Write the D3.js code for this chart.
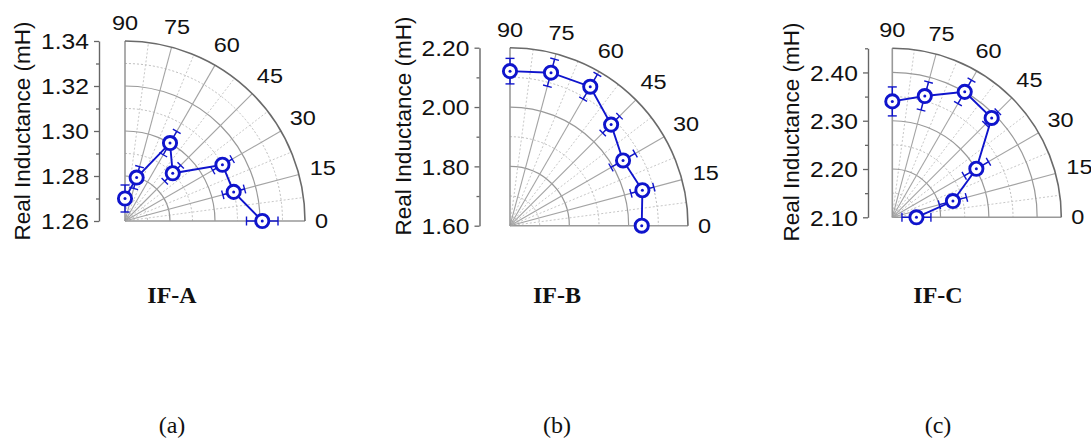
<!DOCTYPE html>
<html>
<head>
<meta charset="utf-8">
<script src="https://cdn.jsdelivr.net/npm/d3@7"></script>
<style>
  body { margin: 0; background: #fff; }
  svg { display: block; }
</style>
</head>
<body>
<svg id="chart" width="1091" height="443"></svg>
<script>
// Measurement angles (degrees) shared by the three coils
const angles = [0, 15, 30, 45, 60, 75, 90];
const angleLabels = ["0", "15", "30", "45", "60", "75", "90"];

const panelTitles = ["IF-A", "IF-B", "IF-C"];
const panelLetters = ["(a)", "(b)", "(c)"];
const axisTitle = "Real Inductance (mH)";

// Real inductance (mH) and its error at each angle
const inductanceA = [1.321, 1.310, 1.310, 1.290, 1.300, 1.280, 1.270];
const errorA      = [0.007, 0.005, 0.005, 0.005, 0.006, 0.005, 0.006];
const inductanceB = [2.044, 2.062, 2.040, 2.082, 2.141, 2.134, 2.121];
const errorB      = [0.020, 0.040, 0.047, 0.040, 0.048, 0.047, 0.043];
const inductanceC = [2.150, 2.230, 2.301, 2.391, 2.400, 2.360, 2.340];
const errorC      = [0.030, 0.029, 0.029, 0.018, 0.028, 0.030, 0.030];

// Radial ranges and ticks
const domainA = [1.26, 1.34];
const domainB = [1.60, 2.20];
const domainC = [2.10, 2.45];
const ticksA = [1.26, 1.28, 1.30, 1.32, 1.34];
const ticksB = [1.60, 1.80, 2.00, 2.20];
const ticksC = [2.10, 2.20, 2.30, 2.40];
const minorA = [1.27, 1.29, 1.31, 1.33];
const minorB = [1.70, 1.90, 2.10];
const minorC = [2.15, 2.25, 2.35, 2.45];

const series = [
  { values: inductanceA, errors: errorA, domain: domainA, ticks: ticksA, minor: minorA },
  { values: inductanceB, errors: errorB, domain: domainB, ticks: ticksB, minor: minorB },
  { values: inductanceC, errors: errorC, domain: domainC, ticks: ticksC, minor: minorC }
];

// Placement of each quarter-polar panel
const layout = [
  { ox: 125,   oy: 221,   R: 180, axisX: 99,    titleY: 131, nameX: 172 },
  { ox: 510,   oy: 225.7, R: 178, axisX: 479.5, titleY: 126, nameX: 557 },
  { ox: 892.3, oy: 217.3, R: 169, axisX: 868,   titleY: 132, nameX: 938 }
];

const BLUE = "#0f14cc";
const SANS = "'Liberation Sans', Arial, sans-serif";
const SERIF = "'Liberation Serif', 'Times New Roman', serif";
const STRETCH = 1.12;

const svg = d3.select("#chart");
const rad = d => d * Math.PI / 180;

series.forEach((s, i) => {
  const L = layout[i];
  const g = svg.append("g");
  const r = d3.scaleLinear().domain(s.domain).range([0, L.R]);
  const ang = d3.scaleLinear().domain([0, 90]).range([0, Math.PI / 2]);
  const px = (a, v) => L.ox + r(v) * Math.cos(ang(a));
  const py = (a, v) => L.oy - r(v) * Math.sin(ang(a));

  const arcPath = rr => {
    const p = d3.path();
    p.moveTo(L.ox, L.oy - rr);
    p.arc(L.ox, L.oy, rr, -Math.PI / 2, 0);
    return p.toString();
  };

  const grid = g.append("g").attr("fill", "none");

  // dotted minor circles
  grid.selectAll("path.minor-ring")
    .data(s.minor.filter(v => v < s.domain[1]))
    .join("path")
    .attr("d", v => arcPath(r(v)))
    .attr("stroke", "#bdbdbd").attr("stroke-width", 1)
    .attr("stroke-dasharray", "2,2");

  // dotted minor spokes
  const halfSteps = d3.range(7.5, 90, 15);
  grid.selectAll("line.minor-spoke")
    .data(halfSteps)
    .join("line")
    .attr("x1", L.ox).attr("y1", L.oy)
    .attr("x2", a => px(a, s.domain[1])).attr("y2", a => py(a, s.domain[1]))
    .attr("stroke", "#c8c8c8").attr("stroke-width", 1)
    .attr("stroke-dasharray", "2,2");

  // solid major circles
  grid.selectAll("path.major-ring")
    .data(s.ticks.filter(v => v > s.domain[0] && v < s.domain[1]))
    .join("path")
    .attr("d", v => arcPath(r(v)))
    .attr("stroke", "#999").attr("stroke-width", 1.2);

  // solid spokes every 15 degrees
  grid.selectAll("line.major-spoke")
    .data(angles)
    .join("line")
    .attr("x1", L.ox).attr("y1", L.oy)
    .attr("x2", a => px(a, s.domain[1])).attr("y2", a => py(a, s.domain[1]))
    .attr("stroke", a => (a === 0 || a === 90) ? "#999" : "#a4a4a4")
    .attr("stroke-width", a => (a === 0 || a === 90) ? 1.6 : 1.1);

  // outer boundary arc
  grid.append("path")
    .attr("d", arcPath(r(s.domain[1])))
    .attr("stroke", "#6a6a6a").attr("stroke-width", 1.6);

  // radial value axis on the left
  const y = d3.scaleLinear().domain(s.domain).range([L.oy, L.oy - L.R]);
  const axisG = g.append("g").attr("transform", `translate(${L.axisX},0)`);
  axisG.call(d3.axisLeft(y).tickValues(s.ticks).tickFormat(d3.format(".2f"))
    .tickSize(5).tickSizeOuter(0).tickPadding(6));
  axisG.append("g").call(d3.axisLeft(y).tickValues(s.minor).tickFormat("")
    .tickSize(3).tickSizeOuter(0))
    .select(".domain").remove();
  axisG.selectAll(".domain").attr("stroke", "#666").attr("stroke-width", 1.4);
  axisG.selectAll(".tick line").attr("stroke", "#666").attr("stroke-width", 1.3);
  axisG.selectAll(".tick text")
    .attr("x", -10 / STRETCH)
    .attr("dy", "0.36em")
    .attr("transform", `scale(${STRETCH},1)`)
    .style("font-family", SANS).style("font-size", "22px").attr("fill", "#111");

  // axis title
  g.append("text")
    .attr("transform", `translate(${L.axisX - 69},${L.titleY}) rotate(-90)`)
    .attr("text-anchor", "middle")
    .style("font-family", SANS).style("font-size", "22.5px").attr("fill", "#111")
    .text(axisTitle);

  // angle labels outside the boundary arc
  const angG = g.append("g");
  angles.forEach((a, k) => {
    const t = angG.append("text")
      .attr("text-anchor", "middle").attr("dominant-baseline", "central")
      .style("font-family", SANS).style("font-size", "21px").attr("fill", "#111")
      .text(angleLabels[k]);
    const hw = t.node().getComputedTextLength() * STRETCH / 2;
    const hh = 8;
    const ext = Math.abs(hw * Math.cos(rad(a))) + Math.abs(hh * Math.sin(rad(a)));
    const dist = L.R + 10 + ext;
    const cx = L.ox + dist * Math.cos(rad(a));
    const cy = L.oy - dist * Math.sin(rad(a));
    t.attr("transform", `translate(${cx},${cy}) scale(${STRETCH},1)`);
  });

  // data
  const pts = angles.map((a, k) => ({ a, v: s.values[k], e: s.errors[k] }));
  const dataG = g.append("g");

  dataG.append("path")
    .datum(pts)
    .attr("d", d3.line().x(d => px(d.a, d.v)).y(d => py(d.a, d.v)))
    .attr("fill", "none").attr("stroke", BLUE).attr("stroke-width", 1.9);

  // radial error bars with caps
  const cap = 4.5;
  const errG = dataG.selectAll("g.err").data(pts).join("g")
    .attr("stroke", BLUE).attr("stroke-width", 1.4);
  errG.append("line")
    .attr("x1", d => px(d.a, d.v - d.e)).attr("y1", d => py(d.a, d.v - d.e))
    .attr("x2", d => px(d.a, d.v + d.e)).attr("y2", d => py(d.a, d.v + d.e));
  [-1, 1].forEach(sign => {
    errG.append("line")
      .attr("x1", d => px(d.a, d.v + sign * d.e) - cap * Math.sin(rad(d.a)))
      .attr("y1", d => py(d.a, d.v + sign * d.e) - cap * Math.cos(rad(d.a)))
      .attr("x2", d => px(d.a, d.v + sign * d.e) + cap * Math.sin(rad(d.a)))
      .attr("y2", d => py(d.a, d.v + sign * d.e) + cap * Math.cos(rad(d.a)));
  });

  // open circle markers with centre dot
  dataG.selectAll("circle.mk").data(pts).join("circle")
    .attr("cx", d => px(d.a, d.v)).attr("cy", d => py(d.a, d.v))
    .attr("r", 6.6).attr("fill", "#fff")
    .attr("stroke", BLUE).attr("stroke-width", 2.9);
  dataG.selectAll("circle.dot").data(pts).join("circle")
    .attr("cx", d => px(d.a, d.v)).attr("cy", d => py(d.a, d.v))
    .attr("r", 1.5).attr("fill", BLUE);

  // panel name and letter
  g.append("text")
    .attr("x", L.nameX).attr("y", 303)
    .attr("text-anchor", "middle")
    .style("font-family", SERIF).style("font-size", "24px").style("font-weight", "bold")
    .attr("fill", "#111")
    .text(panelTitles[i]);
  g.append("text")
    .attr("x", L.nameX).attr("y", 433)
    .attr("text-anchor", "middle")
    .style("font-family", SERIF).style("font-size", "24px")
    .attr("fill", "#111")
    .text(panelLetters[i]);
});
</script>
</body>
</html>
